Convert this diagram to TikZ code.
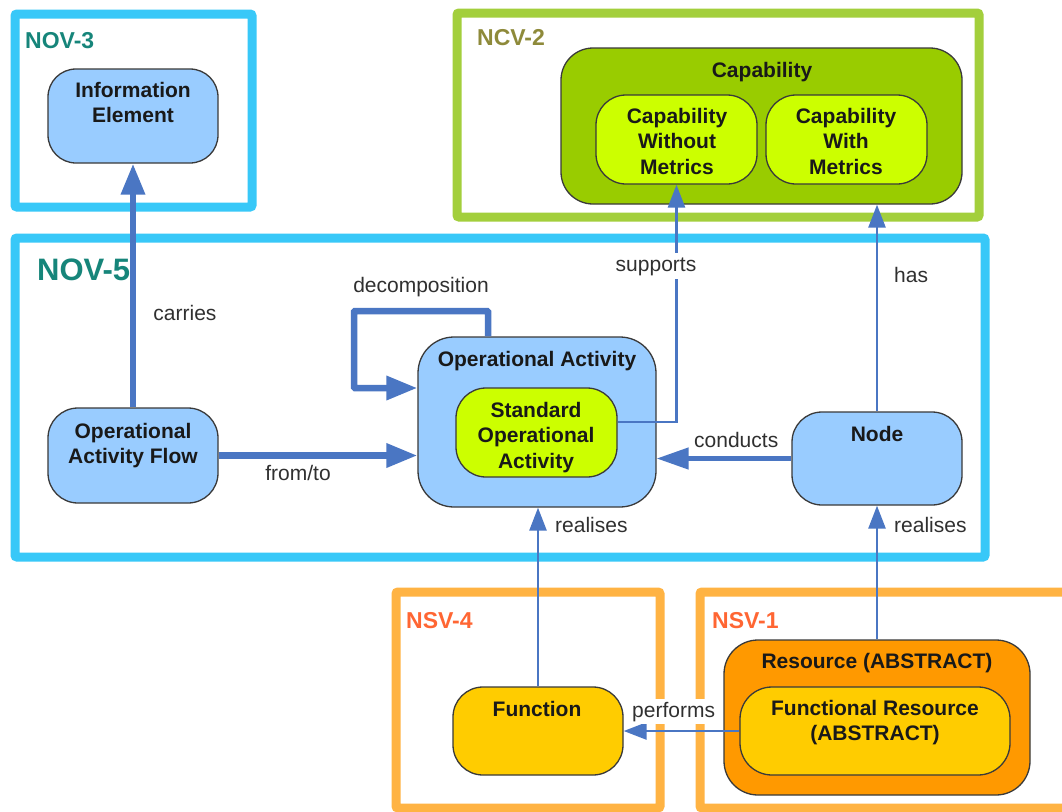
\documentclass[tikz,border=0pt]{standalone}
\usepackage{fontspec}
\setmainfont{Liberation Sans}
\usetikzlibrary{arrows.meta,fit}

\definecolor{novframe}{HTML}{38C8F8}
\definecolor{ncvframe}{HTML}{A3CF3C}
\definecolor{nsvframe}{HTML}{FFB343}
\definecolor{novtitle}{HTML}{16857A}
\definecolor{ncvtitle}{HTML}{8E8A3A}
\definecolor{nsvtitle}{HTML}{FF6633}
\definecolor{opblue}{HTML}{99CCFF}
\definecolor{capgreen}{HTML}{99CC00}
\definecolor{capinner}{HTML}{CCFF00}
\definecolor{resorange}{HTML}{FF9900}
\definecolor{resyellow}{HTML}{FFCC00}
\definecolor{linkblue}{HTML}{4A76C3}
\definecolor{boxedge}{HTML}{3A3A3A}
\definecolor{labelgray}{HTML}{303030}

\begin{document}
\begin{tikzpicture}[x=1pt,y=-1pt,
  viewframe/.style={line width=9pt, rounded corners=2pt},
  box/.style={draw=boxedge, line width=1.3pt, rounded corners=#1, inner sep=0pt},
  box/.default=30pt,
  boxtext/.style={font=\bfseries\fontsize{21}{25.5}\selectfont, align=center,
                  inner sep=0pt, text=black!90},
  viewtitle/.style={font=\bfseries\fontsize{23}{27}\selectfont, inner sep=0pt,
                    anchor=base west},
  lbl/.style={font=\fontsize{21}{25}\selectfont, inner sep=0pt, text=labelgray,
              anchor=base},
  thickarrow/.style={draw=linkblue, line width=6.5pt,
                     -{Triangle[length=31pt,width=23pt]}},
  midarrow/.style={draw=linkblue, line width=4.5pt,
                   -{Triangle[length=32pt,width=21pt]}},
  thinarrow/.style={draw=linkblue, line width=2.6pt,
                    -{Triangle[length=23pt,width=17pt]}}]

\useasboundingbox (0,0) rectangle (1062,811);
\fill[white] (0,0) rectangle (1062,811);

% view frames
\draw[viewframe, novframe] (15,14) rectangle (252,207);
\draw[viewframe, ncvframe] (457,13) rectangle (979,217);
\draw[viewframe, novframe] (15,238) rectangle (985,557);
\draw[viewframe, nsvframe] (396,592) rectangle (660,808);
\draw[viewframe, nsvframe] (700,592) rectangle (1090,808);

% view titles
\node[viewtitle, text=novtitle] (tnov3) at (25,48) {NOV-3};
\node[viewtitle, text=ncvtitle] (tncv2) at (477,45) {NCV-2};
\node[viewtitle, text=novtitle, font=\bfseries\fontsize{31}{35}\selectfont] (tnov5) at (37,280) {NOV-5};
\node[viewtitle, text=nsvtitle] (tnsv4) at (406,628) {NSV-4};
\node[viewtitle, text=nsvtitle] (tnsv1) at (712,628) {NSV-1};

% NOV-3
\node[box=28pt, fill=opblue, fit={(48,69) (218,163)}] (info) {};
\node[boxtext, anchor=north] (infot) at (133,81.7) {Information\\Element};

% NCV-2
\node[box=32pt, fill=capgreen, fit={(561,48) (962,204)}] (cap) {};
\node[boxtext, anchor=base] (capt) at (762,77) {Capability};
\node[box=30pt, fill=capinner, fit={(596,95) (757,184)}] (cwom) {};
\node[boxtext, anchor=north] (cwomt) at (677,107.7) {Capability\\Without\\Metrics};
\node[box=30pt, fill=capinner, fit={(766,95) (927,184)}] (cwm) {};
\node[boxtext, anchor=north] (cwmt) at (846,107.7) {Capability\\With\\Metrics};

% NOV-5
\node[box=30pt, fill=opblue, fit={(48,408) (218,503)}] (oaf) {};
\node[boxtext, anchor=north] (oaft) at (133,422.7) {Operational\\Activity Flow};
\node[box=36pt, fill=opblue, fit={(418,337) (656,507)}] (oa) {};
\node[boxtext, anchor=base] (oat) at (537,366) {Operational Activity};
\node[box=30pt, fill=capinner, fit={(456,388) (617,477)}] (soa) {};
\node[boxtext, anchor=north] (soat) at (536,401.7) {Standard\\Operational\\Activity};
\node[box=30pt, fill=opblue, fit={(792,412) (962,505)}] (nd) {};
\node[boxtext, anchor=base] (ndt) at (877,441) {Node};

% NSV-4
\node[box=30pt, fill=resyellow, fit={(453,687) (623,775)}] (fn) {};
\node[boxtext, anchor=base] (fnt) at (537,716) {Function};

% NSV-1
\node[box=34pt, fill=resorange, fit={(724,640) (1030,795)}] (res) {};
\node[boxtext, anchor=base] (rest) at (877,668) {Resource (ABSTRACT)};
\node[box=32pt, fill=resyellow, fit={(740,687) (1010,775)}] (fr) {};
\node[boxtext, anchor=north] (frt) at (875,699.7) {Functional Resource\\(ABSTRACT)};

% relationships
\draw[thickarrow] (oaf.north) -- (info.south);
\coordinate (dcorner) at (354,311);
\draw[thickarrow, rounded corners=1pt] ([xshift=-49pt]oa.north) |- (dcorner) |- ([yshift=34pt]oa.west);
\draw[thickarrow] (oaf.east) -- (oaf.east -| oa.west);
\draw[midarrow] (nd.west) -- (nd.west -| oa.east);
\draw[thinarrow] ([yshift=10.5pt]soa.east) -| (cwom.south);
\draw[thinarrow] (nd.north) -- (nd.north |- cap.south);
\draw[thinarrow] (fn.north) -- (fn.north |- oa.south);
\draw[thinarrow] (res.north) -- (nd.south);
\draw[thinarrow] (fr.west) -- (fr.west -| fn.east);

% relationship labels
\node[lbl] (lcarries) at (185,320) {carries};
\node[lbl] (ldecomp) at (421,292) {decomposition};
\node[lbl] (lfromto) at (298,480) {from/to};
\node[lbl, fill=white, inner ysep=4pt] (lsupports) at (656,271) {supports};
\node[lbl, anchor=base west] (lhas) at (894,282) {has};
\node[lbl, anchor=base west] (lconducts) at (694,447) {conducts};
\node[lbl, anchor=base west] (lreal1) at (555,532) {realises};
\node[lbl, anchor=base west] (lreal2) at (894,532) {realises};
\node[lbl, anchor=base west, fill=white, inner ysep=3pt] (lperforms) at (632,717) {performs};
\end{tikzpicture}
\end{document}
